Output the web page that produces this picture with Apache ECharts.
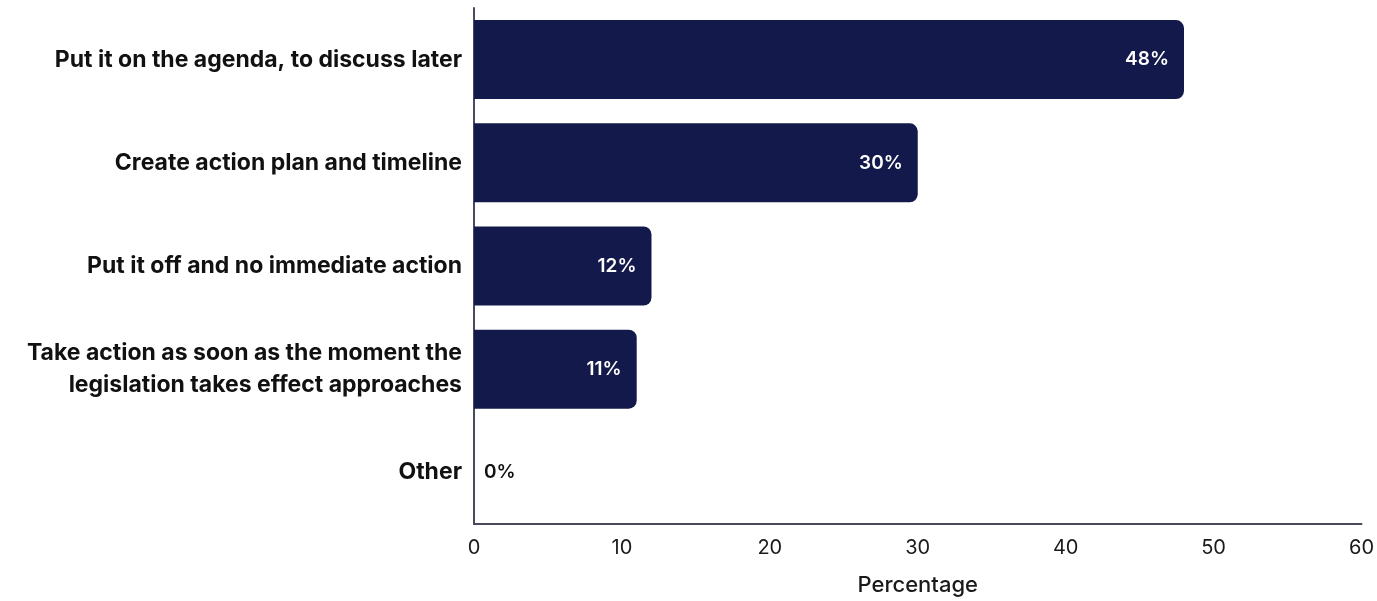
<!DOCTYPE html>
<html>
<head>
<meta charset="utf-8">
<script src="https://cdn.jsdelivr.net/npm/echarts@6/dist/echarts.min.js"></script>
<style>
html,body{margin:0;padding:0;background:#fff;}
#chart{width:1377px;height:601px;}
</style>
</head>
<body>
<div id="chart"></div>
<script>
const categories = [
  "Put it on the agenda, to discuss later",
  "Create action plan and timeline",
  "Put it off and no immediate action",
  "Take action as soon as the moment the\nlegislation takes effect approaches",
  "Other"
];
const values = [48, 30, 12, 11, 0];
const xTicks = { min: 0, max: 60, interval: 10 };
const xAxisName = "Percentage";

const FONT = "Inter";
const chart = echarts.init(document.getElementById('chart'));
chart.setOption({
  animation: false,
  backgroundColor: '#ffffff',
  grid: { left: 474, right: 15, top: 8, bottom: 73, containLabel: false },
  xAxis: {
    type: 'value',
    min: xTicks.min, max: xTicks.max, interval: xTicks.interval,
    name: xAxisName,
    nameLocation: 'middle',
    nameGap: 50,
    nameTextStyle: { fontFamily: FONT, fontSize: 22, fontWeight: 500, color: '#1a1a1a' },
    axisLine: { show: true, lineStyle: { color: '#4a4a5e', width: 2 } },
    axisTick: { show: false },
    splitLine: { show: false },
    axisLabel: { fontFamily: FONT, fontSize: 20, color: '#1a1a1a', margin: 14 }
  },
  yAxis: {
    type: 'category',
    inverse: true,
    data: categories,
    axisLine: { show: true, lineStyle: { color: '#4a4a5e', width: 2 } },
    axisTick: { show: false },
    axisLabel: {
      fontFamily: FONT, fontSize: 23, fontWeight: 700, color: '#111111',
      margin: 12, lineHeight: 32, align: 'right'
    }
  },
  series: [{
    type: 'bar',
    data: values.map(v => v === 0
      ? { value: v, label: { position: 'right', color: '#111111', distance: 10 } }
      : v),
    barWidth: 79,
    itemStyle: { color: '#131a4b', borderRadius: [0, 8, 8, 0] },
    label: {
      show: true,
      position: 'insideRight',
      distance: 15,
      formatter: '{c}%',
      fontFamily: FONT, fontSize: 19, fontWeight: 600, color: '#ffffff'
    }
  }]
});
</script>
</body>
</html>
